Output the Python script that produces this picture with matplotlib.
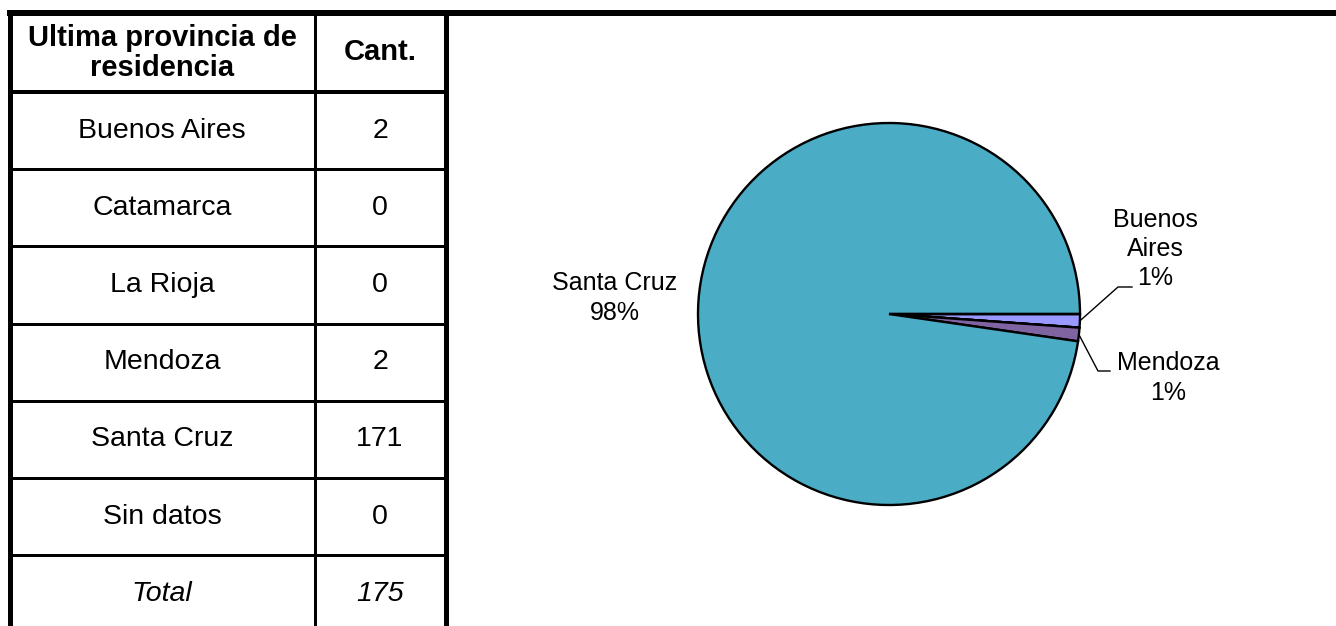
import matplotlib
matplotlib.use("Agg")
import matplotlib.pyplot as plt
import numpy as np

plt.rcParams['font.family'] = ['Liberation Sans', 'DejaVu Sans']

# datos de la tabla
provincias = ["Buenos Aires", "Catamarca", "La Rioja", "Mendoza", "Santa Cruz", "Sin datos"]
cantidades = [2, 0, 0, 2, 171, 0]
encabezado = ["Ultima provincia de\nresidencia", "Cant."]
total_label = "Total"

colores = ["#9999FF", "#993366", "#FFFFCC", "#8064A2", "#4BACC6", "#CCFFFF"]

W, H = 1336, 626
fig = plt.figure(figsize=(W / 100, H / 100), dpi=100)

# ---- tabla (coordenadas en pixeles) ----
tab = fig.add_axes([0, 0, 1, 1])
tab.set_xlim(0, W)
tab.set_ylim(H, 0)
tab.axis("off")

px2pt = 72 / 100
x_left, x_mid, x_right = 9.5, 314.5, 445.5
y_top, y_head = 13, 92
row_h = 77.2

tab.plot([7, W], [y_top, y_top], color="black", lw=6 * px2pt, solid_capstyle="butt")
tab.plot([x_left, x_left], [y_top, H], color="black", lw=5 * px2pt, solid_capstyle="butt")
tab.plot([x_right, x_right], [y_top, H], color="black", lw=5 * px2pt, solid_capstyle="butt")
tab.plot([x_mid, x_mid], [y_top, H], color="black", lw=3 * px2pt, solid_capstyle="butt")
tab.plot([x_left, x_right], [y_head, y_head], color="black", lw=4 * px2pt, solid_capstyle="butt")

c1 = (x_left + x_mid) / 2
c2 = (x_mid + x_right) / 2
fs_tab = 20.5

tab.text(c1, 53, encabezado[0], ha="center", va="center",
         fontsize=21, fontweight="bold", linespacing=1.12)
tab.text(c2, 52, encabezado[1], ha="center", va="center",
         fontsize=21, fontweight="bold")

filas = list(zip(provincias, [str(c) for c in cantidades])) + [(total_label, str(sum(cantidades)))]
for i, (prov, cant) in enumerate(filas):
    y0 = y_head + i * row_h
    y1 = y0 + row_h
    if i > 0:
        tab.plot([x_left, x_right], [y0, y0], color="black", lw=3 * px2pt, solid_capstyle="butt")
    estilo = "italic" if prov == total_label else "normal"
    yc = (y0 + y1) / 2
    tab.text(c1, yc, prov, ha="center", va="center", fontsize=fs_tab, style=estilo)
    tab.text(c2, yc, cant, ha="center", va="center", fontsize=fs_tab, style=estilo)

# ---- grafico de torta ----
cx, cy, r = 889, 314, 191
lim = 1.25
side = 2 * lim * r
ax = fig.add_axes([(cx - side / 2) / W, (H - cy - side / 2) / H, side / W, side / H])
wedges, _ = ax.pie(cantidades, colors=colores, startangle=0, counterclock=False,
                   wedgeprops=dict(edgecolor="black", linewidth=1.7))
ax.set_xlim(-lim, lim)
ax.set_ylim(-lim, lim)
ax.set_aspect("equal")
ax.axis("off")

def p(px, py):
    return ((px - cx) / r, (cy - py) / r)

# posiciones de etiquetas (layout): texto, codo, fin del conector
etiquetas = {
    "Buenos Aires": dict(texto="Buenos\nAires", pos=p(1155, 249), codo=p(1118, 287), fin=p(1132, 287)),
    "Mendoza": dict(texto="Mendoza", pos=p(1168, 378), codo=p(1098, 371), fin=p(1110, 371)),
    "Santa Cruz": dict(texto="Santa Cruz", pos=p(615, 298), codo=None, fin=None),
}

total = sum(cantidades)
for w, prov, cant in zip(wedges, provincias, cantidades):
    if cant == 0 or prov not in etiquetas:
        continue
    e = etiquetas[prov]
    pct = f"{round(100 * cant / total)}%"
    ax.text(e["pos"][0], e["pos"][1], f"{e['texto']}\n{pct}", ha="center", va="center",
            fontsize=18, linespacing=1.28)
    if e["codo"] is not None:
        ang = np.deg2rad((w.theta1 + w.theta2) / 2)
        ax.plot([np.cos(ang), e["codo"][0], e["fin"][0]],
                [np.sin(ang), e["codo"][1], e["fin"][1]],
                color="black", lw=1.0, clip_on=False)

fig.savefig("out.png", dpi=100)
